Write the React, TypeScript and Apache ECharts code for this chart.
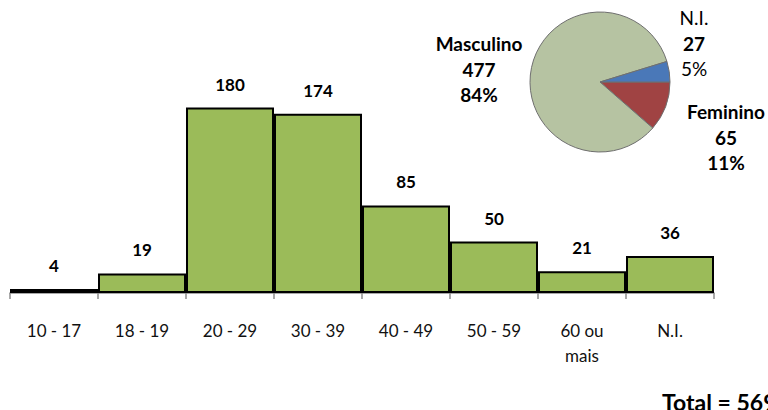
import React, { useEffect, useRef } from "react";
import * as echarts from "echarts";

const categories = ["10 - 17", "18 - 19", "20 - 29", "30 - 39", "40 - 49", "50 - 59", "60 ou\nmais", "N.I."];
const counts = [4, 19, 180, 174, 85, 50, 21, 36];
const sexLabels = ["Feminino", "Masculino", "N.I."];
const sexCounts = [65, 477, 27];
const sexPercents = ["11%", "84%", "5%"];
const sexColors = ["#A04343", "#B6C3A2", "#4A78B8"];

const FONT = "Lato, 'Open Sans', sans-serif";

export default function App() {
  const ref = useRef<HTMLDivElement>(null);
  useEffect(() => {
    if (!ref.current) return;
    const chart = echarts.init(ref.current, null, { renderer: "svg" });
    const total = counts.reduce((a, b) => a + b, 0);
    const labelPos = [
      { x: 726, y: 137 },
      { x: 479, y: 69 },
      { x: 694, y: 43 },
    ];
    chart.setOption({
      animation: false,
      backgroundColor: "#ffffff",
      textStyle: { fontFamily: FONT },
      grid: { left: 10, right: 54, top: 87, bottom: 117 },
      xAxis: {
        type: "category",
        data: categories,
        axisLine: { lineStyle: { color: "#8c8c8c", width: 1.5 } },
        axisTick: { show: true, length: 6, lineStyle: { color: "#8c8c8c", width: 1.5 } },
        axisLabel: { color: "#111", fontSize: 17, margin: 25, fontFamily: FONT, lineHeight: 25 },
      },
      yAxis: { type: "value", min: 0, max: 200, show: false, splitLine: { show: false } },
      series: [
        {
          type: "bar",
          data: counts,
          barCategoryGap: "0%",
          itemStyle: { color: "#9BBB59", borderColor: "#000", borderWidth: 2 },
          label: {
            show: true,
            position: "top",
            distance: 15,
            color: "#000",
            fontWeight: "bold",
            fontSize: 17,
            fontFamily: FONT,
          },
        },
        {
          type: "pie",
          center: [600, 82],
          radius: 70,
          startAngle: 0,
          clockwise: true,
          data: sexLabels.map((n, i) => ({
            name: n,
            value: sexCounts[i],
            itemStyle: { color: sexColors[i] },
          })),
          itemStyle: { borderColor: "#6f6f6f", borderWidth: 1 },
          labelLine: { show: false },
          label: {
            show: true,
            position: "outside",
            overflow: "none",
            formatter: (p: any) =>
              p.dataIndex === 2
                ? `{n|${p.name}}\n{b|${p.value}}\n{n|${sexPercents[p.dataIndex]}}`
                : `{b|${p.name}}\n{b|${p.value}}\n{b|${sexPercents[p.dataIndex]}}`,
            color: "#000",
            align: "center",
            verticalAlign: "middle",
            rich: {
              b: { fontSize: 19, fontWeight: "bold", lineHeight: 25.5, fontFamily: FONT, color: "#000" },
              n: { fontSize: 19, fontWeight: "normal", lineHeight: 25.5, fontFamily: FONT, color: "#000" },
            },
          },
          labelLayout: (params: any) => ({
            x: labelPos[params.dataIndex].x,
            y: labelPos[params.dataIndex].y,
            align: "center",
            verticalAlign: "middle",
          }),
          emphasis: { disabled: true },
        },
      ],
      graphic: [
        {
          type: "text",
          left: 662,
          top: 390,
          style: {
            text: `Total = ${total}`,
            fontSize: 23,
            fontWeight: "bold",
            fill: "#000",
            fontFamily: FONT,
          },
        },
      ],
    });
    return () => chart.dispose();
  }, []);
  return (
    <div
      ref={ref}
      style={{ position: "fixed", left: 0, top: 0, width: 768, height: 410 }}
    />
  );
}
